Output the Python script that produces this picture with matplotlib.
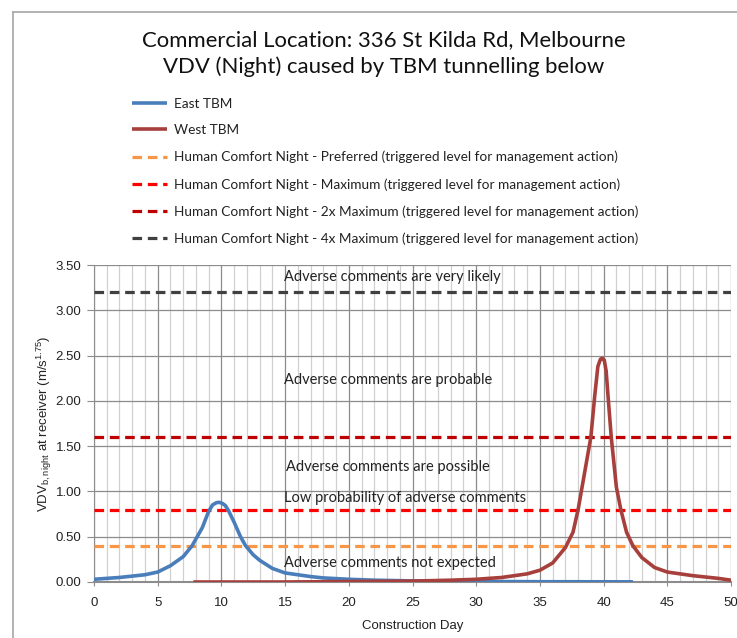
import matplotlib
matplotlib.use("Agg")
import matplotlib.pyplot as plt
from matplotlib.lines import Line2D
import numpy as np

# ---- data ----
east_day = [0, 1, 2, 3, 4, 5, 6, 7, 7.7, 8.5, 9.0, 9.3, 9.6, 9.8, 10.05, 10.3, 10.55, 11, 11.5, 11.9, 12.5, 13, 14, 15, 16, 17, 18, 20, 22, 25, 30, 35, 42.3]
east_vdv = [0.03, 0.04, 0.05, 0.065, 0.08, 0.11, 0.18, 0.28, 0.40, 0.60, 0.78, 0.85, 0.875, 0.88, 0.87, 0.845, 0.79, 0.66, 0.50, 0.40, 0.30, 0.24, 0.15, 0.10, 0.08, 0.06, 0.045, 0.03, 0.02, 0.012, 0.006, 0.003, 0.002]

west_day = [7.8, 15, 20, 25, 28, 30, 32, 34, 35, 36, 37, 37.6, 38, 38.5, 39, 39.3, 39.55, 39.75, 39.9, 40.05, 40.2, 40.35, 40.6, 41, 41.35, 41.8, 42.3, 43, 44, 45, 46, 47, 48, 49, 50]
west_vdv = [0.0, 0.0, 0.005, 0.01, 0.02, 0.03, 0.05, 0.09, 0.13, 0.21, 0.38, 0.55, 0.80, 1.20, 1.60, 2.05, 2.38, 2.46, 2.47, 2.45, 2.33, 2.05, 1.60, 1.05, 0.80, 0.55, 0.40, 0.27, 0.16, 0.11, 0.09, 0.07, 0.055, 0.04, 0.02]

levels = [0.4, 0.8, 1.6, 3.2]
level_labels = [
    "Human Comfort Night - Preferred (triggered level for management action)",
    "Human Comfort Night - Maximum (triggered level for management action)",
    "Human Comfort Night - 2x Maximum (triggered level for management action)",
    "Human Comfort Night - 4x Maximum (triggered level for management action)",
]
level_colors = ["#F79646", "#FF0000", "#C00000", "#404040"]

zone_texts = ["Adverse comments are very likely", "Adverse comments are probable",
              "Adverse comments are possible", "Low probability of adverse comments",
              "Adverse comments not expected"]
zone_y = [3.37, 2.23, 1.27, 0.93, 0.21]
zone_x = [14.9, 14.9, 15.05, 14.9, 14.95]

title_lines = ["Commercial Location: 336 St Kilda Rd, Melbourne",
               "VDV (Night) caused by TBM tunnelling below"]

TXT = ["Lato", "DejaVu Sans"]
TICK = ["Liberation Sans", "DejaVu Sans"]

fig = plt.figure(figsize=(7.37, 6.38), dpi=100)
W, H = 737, 638
ax = fig.add_axes([94 / W, 1 - 582 / H, (731 - 94) / W, (582 - 265) / H])

# frame lines of the screenshot
fig.add_artist(Line2D([13 / W, 13 / W], [0, 1 - 12 / H], transform=fig.transFigure, color="#A6A6A6", lw=1.2))
fig.add_artist(Line2D([13 / W, 1], [1 - 12 / H, 1 - 12 / H], transform=fig.transFigure, color="#A6A6A6", lw=1.2))

ax.set_xlim(0, 50)
ax.set_ylim(0, 3.5)
ax.set_xticks(np.arange(0, 51, 5))
ax.set_xticks(np.arange(0, 51, 1), minor=True)
ax.set_yticks(np.arange(0, 3.51, 0.5))
ax.set_yticklabels([f"{v:.2f}" for v in np.arange(0, 3.51, 0.5)])
ax.grid(which="minor", axis="x", color="#D0D0D0", lw=0.9)
ax.grid(which="major", axis="x", color="#8C8C8C", lw=0.9)
ax.grid(which="major", axis="y", color="#8C8C8C", lw=0.9)
ax.set_axisbelow(True)
for s in ["top", "right"]:
    ax.spines[s].set_visible(False)
ax.spines["left"].set_color("#8C8C8C")
ax.spines["bottom"].set_color("#8C8C8C")
ax.spines["bottom"].set_linewidth(1.5)
ax.tick_params(which="minor", length=0)
ax.tick_params(axis="x", which="major", length=3, color="#8C8C8C", pad=8, labelsize=9.5, colors="#222222")
ax.tick_params(axis="y", length=5, color="#8C8C8C", pad=4, labelsize=9.5, colors="#222222")
for lab in ax.get_xticklabels() + ax.get_yticklabels():
    lab.set_family(TICK)

handles = []
h1, = ax.plot(east_day, east_vdv, color="#4A7EBB", lw=2.6, label="East TBM", solid_capstyle="butt",
              solid_joinstyle="round", zorder=4)
h2, = ax.plot(west_day, west_vdv, color="#A7403C", lw=2.6, label="West TBM", solid_capstyle="butt",
              solid_joinstyle="round", zorder=5)
handles += [h1, h2]
for lv, lab, c in zip(levels, level_labels, level_colors):
    h, = ax.plot([0, 50], [lv, lv], color=c, lw=2.3, dashes=(3, 1.8), label=lab, zorder=3)
    handles.append(h)

for t, x, y in zip(zone_texts, zone_x, zone_y):
    ax.text(x, y, t, fontsize=10.5, family=TXT, color="#222222", ha="left", va="center", zorder=6)

ax.set_xlabel("Construction Day", fontsize=9.5, family=TICK, color="#222222", labelpad=8)
ax.set_ylabel(r"VDV$_{\mathregular{b,night}}$ at receiver (m/s$^{\mathregular{1.75}}$)", fontsize=9.5,
              family=TICK, color="#222222", labelpad=1.5)

fig.text(384 / W, 1 - 40 / H, title_lines[0], fontsize=15.9, family=TXT, ha="center", va="center", color="#111111")
fig.text(384 / W, 1 - 67 / H, title_lines[1], fontsize=15.9, family=TXT, ha="center", va="center", color="#111111")

leg = fig.legend(handles=handles, loc="upper left", bbox_to_anchor=(132 / W, 1 - 97.5 / H), frameon=False,
                 prop={"family": TXT, "size": 9.8}, handlelength=2.55, handletextpad=0.5, labelspacing=1.08,
                 borderaxespad=0, borderpad=0)
for t in leg.get_texts():
    t.set_color("#222222")

fig.savefig("out.png", dpi=100)
